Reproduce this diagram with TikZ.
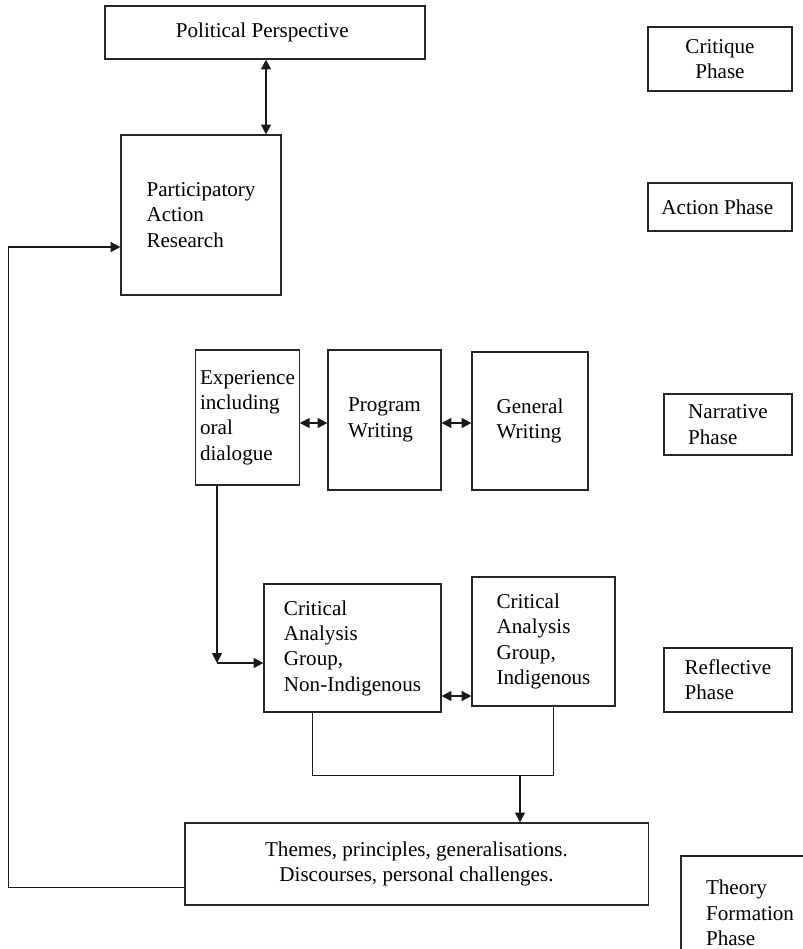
\documentclass[tikz,border=0pt]{standalone}
\usepackage{fontspec}
\setmainfont{Liberation Serif}
\usepackage{tikz}
\usetikzlibrary{
    arrows.meta,
    positioning
}
\tikzstyle{box} = [
    rectangle,
    draw=black!85,
    line width=0.8pt,
    align=left,
    inner sep=3pt,
    font=\fontsize{15}{18}\selectfont
]
\tikzstyle{phase} = [
    box,
    align=center
]
\tikzstyle{arrow} = [
    ->,
    >={Triangle[length=7pt,width=7pt]},
    line width=1.2pt,
    draw=black!90
]
\tikzstyle{dblarrow} = [
    arrow,
    <->
]
\tikzstyle{link} = [
    line width=0.7pt,
    draw=black!90
]

\begin{document}
\begin{tikzpicture}[x=0.025cm, y=-0.025cm]
    \useasboundingbox (0,0) rectangle (803,949);
    \clip (0,0) rectangle (803,949);

    % Top of the cycle
    \node[phase, minimum width=8cm, minimum height=1.325cm] (pp) at (265,32.5) {
        Political Perspective
    };
    \node[box, minimum width=4cm, minimum height=4cm] (par) at (201,215) {
        Participatory\\Action\\Research
    };

    % Narrative boxes
    \node[box, minimum width=2.475cm, minimum height=3.375cm] (exp) at (247.5,417.5) {
        Experience\\including\\oral\\dialogue
    };
    \node[box, minimum width=2.825cm, minimum height=3.5cm] (prog) at (384.5,420) {
        Program\\Writing
    };
    \node[box, minimum width=2.9cm, minimum height=3.45cm] (gen) at (530,421) {
        General\\Writing
    };

    % Critical analysis groups
    \node[box, minimum width=4.425cm, minimum height=3.2cm] (nonind) at (352.5,648) {
        Critical\\Analysis\\Group,\\Non-Indigenous
    };
    \node[box, minimum width=3.575cm, minimum height=3.225cm] (ind) at (543.5,641.5) {
        Critical\\Analysis\\Group,\\Indigenous
    };

    % Outcomes
    \node[phase, minimum width=11.575cm, minimum height=2.05cm] (themes) at (416.5,864) {
        Themes, principles, generalisations.\\Discourses, personal challenges.
    };

    % Phase labels
    \node[phase, minimum width=3.6cm, minimum height=1.6cm] (critique) at (720,59) {
        Critique\\Phase
    };
    \node[phase, minimum width=3.6cm, minimum height=1.2cm] (action) at (720,207) {
        Action Phase
    };
    \node[box, minimum width=3.2cm, minimum height=1.525cm] (narrative) at (728,424.5) {
        Narrative\\Phase
    };
    \node[box, minimum width=3.2cm, minimum height=1.6cm] (reflective) at (728,680) {
        Reflective\\Phase
    };
    \node[box, minimum width=3.45cm, minimum height=2.85cm] (theory) at (750,913) {
        Theory\\Formation\\Phase
    };

    % Helper points
    \coordinate (ppx) at (266,0);
    \coordinate (loop) at (8,887);
    \coordinate (back) at (8,247);
    \coordinate (nar) at (0,423);
    \coordinate (bend) at (217,663);
    \coordinate (refl) at (0,696);
    \coordinate (jl) at (312,775);
    \coordinate (jr) at (553,775);
    \coordinate (jm) at (520,775);

    % Arrows
    \draw[dblarrow] (pp.south -| ppx) -- (par.north -| ppx);
    \draw[link] (themes.west |- loop) -- (loop) -- (back);
    \draw[arrow] (back) -- (back -| par.west);
    \draw[dblarrow] (exp.east |- nar) -- (prog.west |- nar);
    \draw[dblarrow] (prog.east |- nar) -- (gen.west |- nar);
    \draw[arrow] (exp.south -| bend) -- (bend);
    \draw[arrow] (bend) -- (bend -| nonind.west);
    \draw[dblarrow] (nonind.east |- refl) -- (ind.west |- refl);
    \draw[link] (nonind.south -| jl) -- (jl) -- (jr) -- (ind.south -| jr);
    \draw[arrow] (jm) -- (themes.north -| jm);
\end{tikzpicture}
\end{document}
